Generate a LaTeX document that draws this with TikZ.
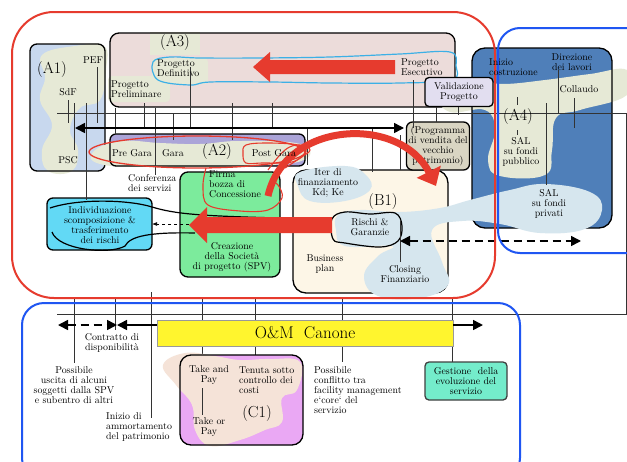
\documentclass[tikz,border=0pt]{standalone}
\usetikzlibrary{arrows.meta}
\definecolor{redc}{HTML}{E63B2E}
\definecolor{bluec}{HTML}{1F56F2}
\definecolor{skyc}{HTML}{3CB0E6}
\definecolor{aonefill}{HTML}{C8D8EE}
\definecolor{beige}{HTML}{E6E9D6}
\definecolor{athreefill}{HTML}{ECDCDA}
\definecolor{lav}{HTML}{E2DEF0}
\definecolor{tanc}{HTML}{D9D5C3}
\definecolor{purp}{HTML}{ABA4D8}
\definecolor{cream}{HTML}{FDF6E7}
\definecolor{greenc}{HTML}{7CEB9C}
\definecolor{cyanc}{HTML}{62D9F5}
\definecolor{afourblue}{HTML}{4F7FB9}
\definecolor{lblue}{HTML}{D6E6EE}
\definecolor{yellowc}{HTML}{FFF52E}
\definecolor{pinkc}{HTML}{EAA8F4}
\definecolor{peach}{HTML}{F5E3D8}
\definecolor{tealc}{HTML}{74ECCB}
\tikzset{
  lbl/.style={font=\fontsize{9.9}{9.9}\selectfont, inner sep=0pt, align=center},
  lbll/.style={font=\fontsize{9.9}{9.9}\selectfont, inner sep=0pt, align=left, anchor=west},
  big/.style={font=\fontsize{16}{17}\selectfont, inner sep=0pt},
  tick/.style={black!80, line width=0.6pt},
  boxline/.style={black, line width=1.3pt},
  blob/.style={smooth cycle, tension=0.7},
  fatarrow/.style={line width=1.6pt, black},
}
\begin{document}
\begin{tikzpicture}[x=1pt,y=-1pt]
\useasboundingbox (0,0) rectangle (627,461);
\clip (0,0) rectangle (627,461);
\fill[white] (0,0) rectangle (627,461);

% ---------- A1 box
\fill[aonefill, rounded corners=7] (30,44) rectangle (105,171);
\fill[beige] plot[blob] coordinates {(42,55) (75,46) (104,46) (106,70) (100,100) (80,108) (70,130) (78,150) (72,171) (48,171) (42,150) (52,125) (40,100) (45,78)};
\draw[boxline, rounded corners=7] (30,44) rectangle (105,171);

% ---------- A3 box
\fill[athreefill, rounded corners=9] (110,33) rectangle (455,107);
\fill[beige] (150,32) rectangle (200,55);
\fill[beige, rounded corners=4] (108,76) rectangle (170,102);
\fill[beige, rounded corners=4] (152,58) rectangle (208,84);
\draw[boxline, rounded corners=9] (110,33) rectangle (455,107);
\draw[skyc, line width=1.2pt] plot[smooth cycle, tension=0.6] coordinates {(153,62) (170,57) (200,58) (260,58) (330,57) (400,54) (450,52) (456,66) (452,80) (400,83) (330,83) (270,82) (210,82) (190,85) (158,80)};
\fill[redc] (395,60) -- (270,60) -- (270,52) -- (253,67) -- (270,82) -- (270,74) -- (395,74) -- cycle;

% ---------- A4 box
\fill[afourblue, rounded corners=13] (472,48) rectangle (612,228);
\fill[beige] plot[blob] coordinates {(440,95) (475,82) (505,84) (545,80) (590,74) (627,70) (627,95) (580,110) (556,118) (552,150) (545,175) (500,176) (488,160) (495,130) (485,110) (450,112)};
\draw[boxline, rounded corners=13] (472,48) rectangle (612,228);

% ---------- B1 box
\fill[cream, rounded corners=13] (293,170) rectangle (448,293);
\draw[boxline, rounded corners=13] (293,170) rectangle (448,293);
\fill[lblue] plot[blob] coordinates {(300,172) (345,166) (366,175) (370,190) (345,201) (310,201) (298,186)};
\fill[lblue] plot[blob] coordinates {(338,215) (360,210) (400,212) (440,208) (470,200) (510,190) (545,184) (590,192) (602,210) (585,229) (540,233) (500,224) (462,221) (432,230) (442,262) (448,285) (420,298) (378,296) (364,276) (378,256) (392,246) (345,246) (336,230)};

% ---------- A2 box
\fill[purp, rounded corners=6] (110,134) rectangle (305,166);
\fill[beige] plot[blob] coordinates {(93,152) (120,141) (160,143) (200,144) (240,141) (300,144) (304,160) (250,166) (150,167) (100,164)};
\draw[boxline, rounded corners=6] (110,134) rectangle (305,166);

% ---------- Validazione and Programma boxes
\node[draw, line width=1.3pt, fill=lav, rounded corners=4, minimum width=68pt, minimum height=29pt, inner sep=0pt] (valid) at (459,92) {};
\node[lbl] (validt) at (459,92) {Validazione\\Progetto};
\node[draw, line width=1.3pt, fill=tanc, rounded corners=6, minimum width=63pt, minimum height=48pt, inner sep=0pt] (progr) at (438,146) {};
\node[lbl] (progrt) at (438,146) {(Programma\\di vendita del\\vecchio\\patrimonio)};

% ---------- Green box
\fill[greenc, rounded corners=8] (180,172) rectangle (280,277);
\draw[boxline, rounded corners=8] (180,172) rectangle (280,277);

% ---------- Individuazione box
\fill[cyanc, rounded corners=6] (47,198) rectangle (152,250);
\draw[boxline, rounded corners=6] (47,198) rectangle (152,250);
\draw[black, line width=1.2pt] (50,208) .. controls (80,198) and (130,200) .. (152,207) .. controls (175,214) and (200,216) .. (280,218);
\draw[black, line width=1.2pt] (52,232) .. controls (58,250) and (110,255) .. (125,246) .. controls (130,236) and (150,232) .. (195,233);
\draw[black, line width=1.2pt] plot[smooth cycle, tension=0.6] coordinates {(332,219) (345,212) (370,214) (395,213) (402,226) (398,241) (380,247) (345,243) (333,239)};

% ---------- grid lines
\draw[tick] (57,113) -- (627,113);
\draw[tick] (626,113) -- (626,314);
\draw[tick] (57,314) -- (627,314);
\foreach \x/\a/\b in {68/100/123, 74/103/150, 86/103/200, 97/67/123, 115/108/135, 144/103/128, 155/108/175, 173/113/140, 190/67/128, 232/103/140, 272/103/128, 307/128/165, 372/128/172, 400/135/170, 413/80/128, 436/107/122, 458/107/115, 517/97/105, 517/130/135, 546/103/185, 558/70/113, 574/98/128, 400/220/262}
  \draw[tick] (\x,\a) -- (\x,\b);
\foreach \x/\a/\b in {74/298/363, 115/298/330, 151/292/418, 202/298/372, 255/298/362, 342/298/362, 452/298/362}
  \draw[tick] (\x,\a) -- (\x,\b);

% ---------- thick timeline arrow
\draw[fatarrow, {Triangle[length=10pt,width=10pt]}-{Triangle[length=10pt,width=10pt]}] (75,128) -- (404,128);

% ---------- arrows
\draw[black, dashed, line width=0.6pt, -{Latex[length=5pt]}] (195,224) -- (152,224);
\draw[black, line width=1.6pt, dash pattern=on 8pt off 5pt, {Triangle[length=10pt,width=10pt]}-{Triangle[length=10pt,width=10pt]}] (400,241) -- (581,241);
\fill[redc] (332,217) -- (207,217) -- (207,207) -- (189,225) -- (207,243) -- (207,233) -- (332,233) -- cycle;
\draw[redc, line width=7pt, -{Triangle[length=16pt,width=26pt]}] (268,196) .. controls (285,120) and (400,115) .. (436,186);

% ---------- red outlines
\draw[redc, line width=1.3pt] (197,152) ellipse (108pt and 16pt);
\draw[redc, line width=1.1pt] plot[smooth, tension=0.6] coordinates {(206,168) (203,186) (208,205) (240,211) (268,210) (282,198) (278,185) (270,180)};
\draw[redc, line width=1.1pt] plot[smooth cycle, tension=0.6] coordinates {(246,145) (268,143) (298,145) (306,152) (292,162) (262,163) (246,163) (243,154)};
\draw[redc, line width=1.1pt] plot[smooth, tension=0.7] coordinates {(268,170) (285,150) (300,145) (310,150) (300,158) (285,168)};

% ---------- outer frames
\draw[redc, line width=2pt, rounded corners=42] (12,12) rectangle (495,298);
\draw[bluec, line width=2pt, rounded corners=22] (498,28) rectangle (660,253);
\draw[bluec, line width=2pt, rounded corners=22] (22,303) rectangle (520,480);

% ---------- lower part
\node[draw=black!40, line width=0.5pt, fill=yellowc, minimum width=296pt, minimum height=26pt, inner sep=0pt] (om) at (305,333) {};
\node[font=\fontsize{17}{18}\selectfont, inner sep=0pt] (omt) at (305,333) {O\&M\ \ Canone};
\draw[black, line width=1.6pt, dash pattern=on 8pt off 5pt, {Triangle[length=10pt,width=10pt]}-{Triangle[length=10pt,width=10pt]}] (58,325) -- (117,325);
\draw[black, line width=1.6pt, {Triangle[length=10pt,width=10pt]}-] (117,325) -- (157,325);
\draw[black, line width=1.6pt, -{Triangle[length=10pt,width=10pt]}] (453,325) -- (483,325);

\fill[pinkc, rounded corners=11] (180,355) rectangle (303,445);
\fill[peach] plot[blob] coordinates {(163,365) (185,353) (215,356) (240,360) (270,359) (300,362) (297,390) (282,398) (282,422) (265,430) (240,440) (210,446) (195,430) (192,405) (176,385)};
\draw[boxline, rounded corners=11] (180,355) rectangle (303,445);
\draw[tick] (202,388) -- (202,415);

\node[draw=black!75, line width=1.3pt, fill=tealc, rounded corners=4, minimum width=82pt, minimum height=38pt, inner sep=0pt] (gest) at (466,381) {};
\node[lbl] (gestt) at (466,381) {Gestione\ \ della\\evoluzione del\\servizio};

% ---------- labels upper
\node[big] (aone) at (52,70) {(A1)};
\node[lbl] (pef) at (93,60) {PEF};
\node[lbl] (sdf) at (68,92) {SdF};
\node[lbl] (psc) at (68,160) {PSC};
\node[big] (athree) at (175,43) {(A3)};
\node[lbll] (pdef) at (157,68) {Progetto\\Definitivo};
\node[lbll] (ppre) at (111,89) {Progetto\\Preliminare};
\node[lbll] (pese) at (401,67) {Progetto\\Esecutivo};
\node[lbl] (pregara) at (132,153) {Pre Gara};
\node[lbl] (gara) at (173,153) {Gara};
\node[big] (atwo) at (217,152) {(A2)};
\node[lbl] (postgara) at (274,153) {Post Gara};
\node[lbll] (conf) at (128,183) {Conferenza\\dei servizi};
\node[lbl] (indiv) at (100,225) {Individuazione\\scomposizione \&\\trasferimento\\dei rischi};
\node[lbll] (firma) at (209,184) {Firma\\bozza di\\Concessione};
\node[lbl] (crea) at (232,257) {Creazione\\della Società\\di progetto (SPV)};
\node[lbl] (iter) at (328,183) {Iter di\\finanziamento\\Kd; Ke};
\node[big] (bone) at (383,202) {(B1)};
\node[lbl] (rischi) at (370,227) {Rischi \&\\Garanzie};
\node[lbl] (bplan) at (325,264) {Business\\plan};
\node[lbl] (closing) at (405,274) {Closing\\Finanziario};
\node[lbll] (inizio) at (489,67) {Inizio\\costruzione};
\node[lbl] (direz) at (572,62) {Direzione\\dei lavori};
\node[lbl] (coll) at (579,89) {Collaudo};
\node[big] (afour) at (518,117) {(A4)};
\node[lbl] (salpub) at (521,152) {SAL\\su fondi\\pubblico};
\node[lbl] (salpriv) at (549,204) {SAL\\su fondi\\privati};

% ---------- labels lower
\node[lbl] (contr) at (112,343) {Contratto di\\disponibilità};
\node[lbl] (possib) at (74,385) {Possibile\\uscita di alcuni\\soggetti dalla SPV\\e subentro di altri};
\node[lbll] (inizam) at (106,427) {Inizio di\\ammortamento\\del patrimonio};
\node[lbl] (tap) at (209,375) {Take and\\Pay};
\node[lbl] (top) at (209,427) {Take or\\Pay};
\node[lbll] (tenuta) at (239,380) {Tenuta sotto\\controllo dei\\costi};
\node[big] (cone) at (257,414) {(C1)};
\node[lbll] (confl) at (314,390) {Possibile\\conflitto tra\\facility management\\e`core` del\\servizio};
\end{tikzpicture}
\end{document}
